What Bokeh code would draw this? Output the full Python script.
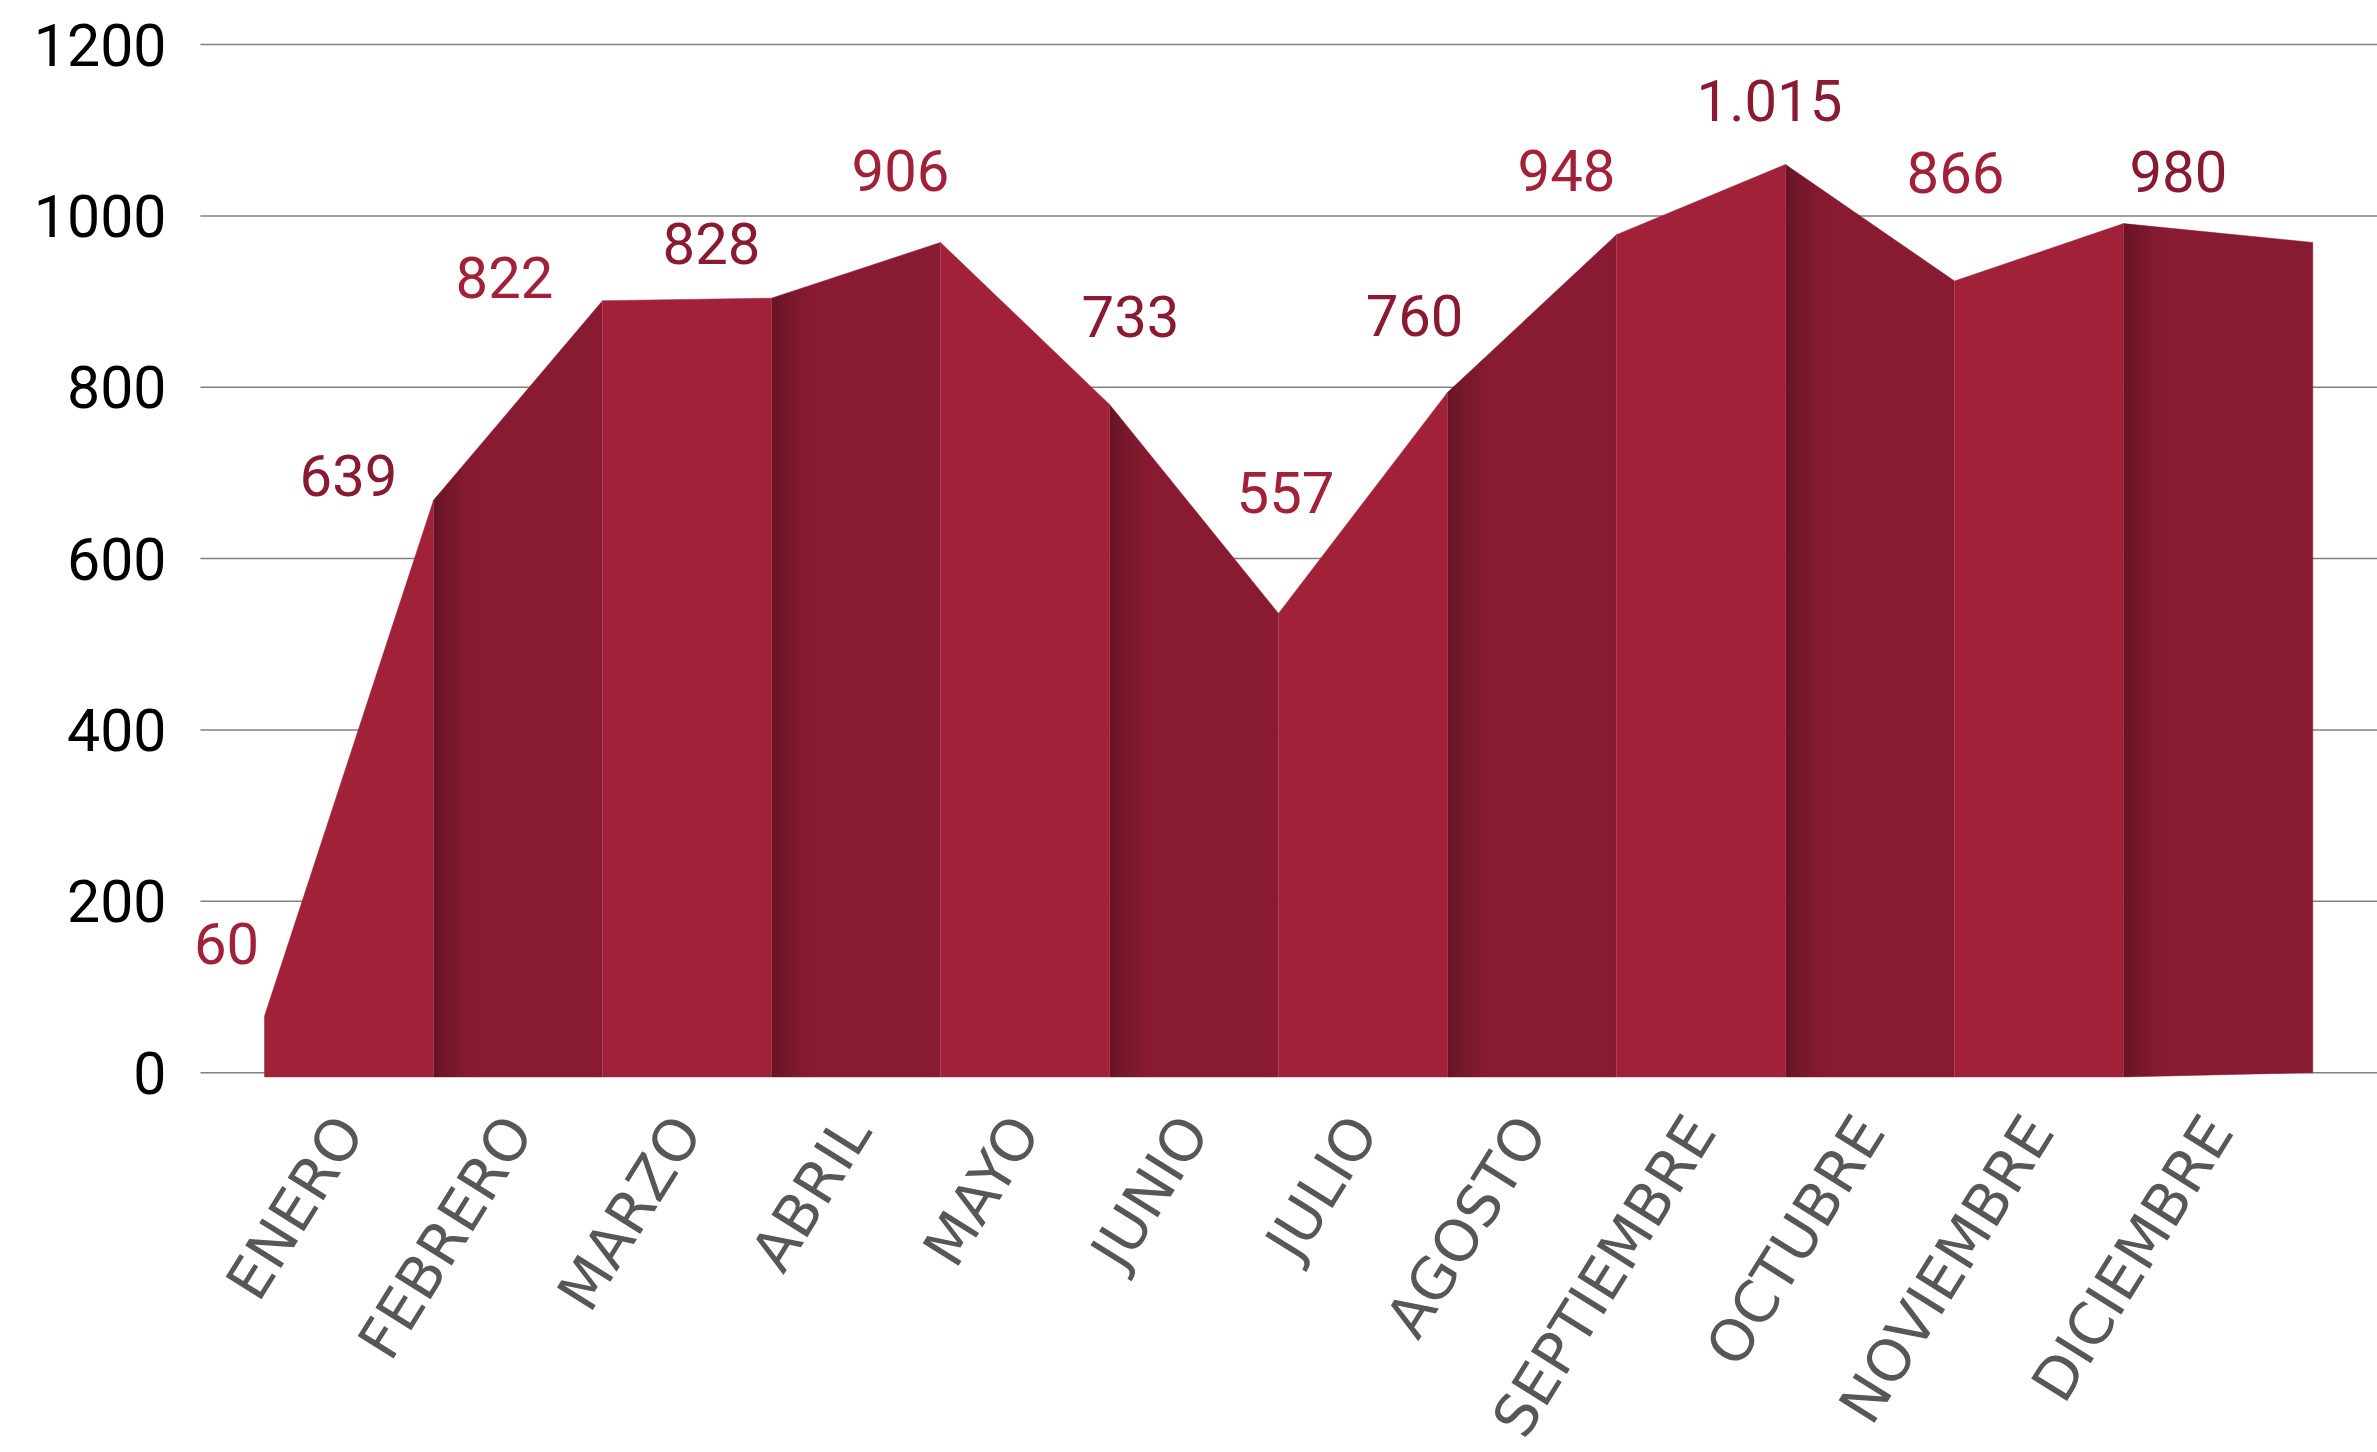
import numpy as np
from bokeh.plotting import figure
from bokeh.models import ColumnDataSource, FixedTicker, Range1d, LabelSet
from bokeh.core.properties import value
from bokeh.embed import file_html
from bokeh.resources import INLINE

# ---------------- data ----------------
months = ["ENERO", "FEBRERO", "MARZO", "ABRIL", "MAYO", "JUNIO", "JULIO",
          "AGOSTO", "SEPTIEMBRE", "OCTUBRE", "NOVIEMBRE", "DICIEMBRE"]
values = [60, 639, 822, 828, 906, 733, 557, 760, 948, 1015, 866, 980]
# heights of the folded ribbon at each fold
fold_heights = [66, 668, 901, 904, 969, 780, 536, 794, 978, 1060, 924, 991, 969]
y_ticks = [0, 200, 400, 600, 800, 1000, 1200]

# ---------------- layout / style ----------------
LIGHT = "#A12238"
DARK = "#881B32"
LAST_PANEL_EXTRA = 0.12
X_START, X_END = -0.4675, 12.503
GRID_START = -0.379
fold_base = [-5] * 12 + [0]
label_dx = [-0.225, -0.503, -0.58, -0.355, -0.237, 0.124, 0.041, -0.195, -0.296, -0.095, 0.006, 0.325]
label_dy = [85, 29, 27, 64, 84, 102, 141, 90, 75, 75, 127, 61]

fold_x = np.arange(len(fold_heights), dtype=float)
fold_x[-1] += LAST_PANEL_EXTRA
h = np.array(fold_heights, dtype=float)

p = figure(frame_width=2192, frame_height=1079,
           x_range=Range1d(X_START, X_END), y_range=Range1d(-8, 1251.4),
           output_backend="svg", toolbar_location=None,
           min_border_left=185, min_border_right=0, min_border_top=0, min_border_bottom=10,
           outline_line_color=None, background_fill_color="white")

# horizontal grid lines (start a little right of the frame edge, as in the reference)
p.segment(x0=[GRID_START] * len(y_ticks), y0=y_ticks, x1=[X_END] * len(y_ticks), y1=y_ticks,
          line_color="#808080", line_width=1.5)

# panels
xs, ys, cols = [], [], []
for i in range(len(months)):
    xs.append([fold_x[i], fold_x[i + 1], fold_x[i + 1], fold_x[i]])
    ys.append([fold_base[i], fold_base[i + 1], h[i + 1], h[i]])
    cols.append(LIGHT if i % 2 == 0 else DARK)
p.patches(xs=xs, ys=ys, fill_color=cols, line_color=cols, line_width=0.5)

# shading at the left of dark panels
N = 12
sw = 42.0 / 169.0 / N
sxs, sys_, salpha = [], [], []
for i in range(1, len(months), 2):
    for k in range(N):
        a = fold_x[i] + k * sw
        b = a + sw
        ta = np.interp(a, [fold_x[i], fold_x[i + 1]], [h[i], h[i + 1]])
        tb = np.interp(b, [fold_x[i], fold_x[i + 1]], [h[i], h[i + 1]])
        ba = np.interp(a, [fold_x[i], fold_x[i + 1]], [fold_base[i], fold_base[i + 1]])
        bb = np.interp(b, [fold_x[i], fold_x[i + 1]], [fold_base[i], fold_base[i + 1]])
        sxs.append([a, b, b, a])
        sys_.append([ba, bb, tb, ta])
        salpha.append(0.24 * (1 - k / N) ** 1.5)
p.patches(xs=sxs, ys=sys_, fill_color="black", fill_alpha=salpha, line_color=None)

# thin fold edges
p.segment(x0=fold_x[1:-1], y0=[fold_base[i] for i in range(1, len(fold_x) - 1)],
          x1=fold_x[1:-1], y1=h[1:-1], line_color="#c2566b", line_alpha=0.45, line_width=1)

# value labels
lab_src = ColumnDataSource(dict(
    x=[fold_x[i] + label_dx[i] for i in range(len(values))],
    y=[h[i] + label_dy[i] for i in range(len(values))],
    t=[f"{v:,}".replace(",", ".") for v in values],
    c=[LIGHT if i % 2 == 0 else DARK for i in range(len(values))],
))
labels = LabelSet(x="x", y="y", text="t", source=lab_src, text_color="c",
                  text_font=value("Roboto"), text_font_size=value("58px"),
                  text_align="center", text_baseline="middle")
p.add_layout(labels)

# axes
p.yaxis.ticker = FixedTicker(ticks=y_ticks)
p.yaxis.axis_line_color = None
p.yaxis.major_tick_line_color = None
p.yaxis.minor_tick_line_color = None
p.yaxis.major_tick_out = 0
p.yaxis.major_tick_in = 0
p.yaxis.major_label_standoff = 19
p.yaxis.major_label_text_font = "Roboto"
p.yaxis.major_label_text_font_size = "59px"
p.yaxis.major_label_text_color = "black"

centers = [round((fold_x[i] + fold_x[i + 1]) / 2, 3) for i in range(len(months))]
p.xaxis.ticker = FixedTicker(ticks=centers)
p.xaxis.major_label_overrides = {c: m for c, m in zip(centers, months)}
p.xaxis.major_label_orientation = np.radians(58)
p.xaxis.axis_line_color = None
p.xaxis.major_tick_line_color = None
p.xaxis.minor_tick_line_color = None
p.xaxis.major_tick_out = 0
p.xaxis.major_tick_in = 0
p.xaxis.major_label_standoff = 42
p.xaxis.major_label_text_font = "DejaVu Sans"
p.xaxis.major_label_text_font_size = "58px"
p.xaxis.major_label_text_color = "#575757"

p.xgrid.visible = False
p.ygrid.visible = False

open("out.html", "w").write(file_html(p, INLINE))
